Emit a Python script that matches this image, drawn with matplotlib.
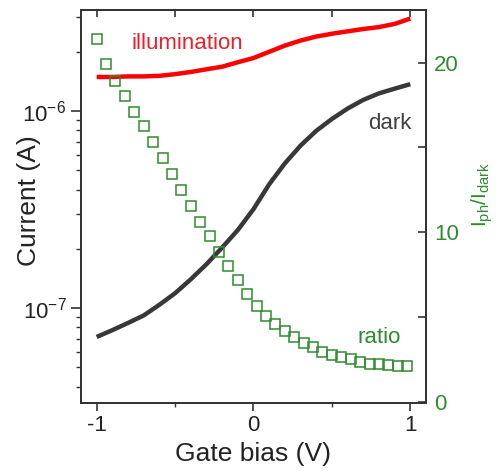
"""Dark / illumination transfer curves with photo-to-dark current ratio."""

import matplotlib
matplotlib.use('Agg')
import matplotlib.pyplot as plt
from matplotlib.ticker import LogLocator, NullFormatter, MultipleLocator

plt.rcParams['font.family'] = ['Liberation Sans', 'DejaVu Sans']
plt.rcParams['mathtext.fontset'] = 'custom'
plt.rcParams['mathtext.rm'] = 'Liberation Sans'
plt.rcParams['mathtext.it'] = 'Liberation Sans:italic'

# Gate bias grid of the two current traces (V)
gate_v = [-1.0, -0.9, -0.8, -0.7, -0.6, -0.5, -0.4, -0.3, -0.2, -0.1, 0.0,
          0.1, 0.2, 0.3, 0.4, 0.5, 0.6, 0.7, 0.8, 0.9, 1.0]

# Dark current (A)
dark_current = [7.14e-8, 7.73e-8, 8.41e-8, 9.18e-8, 1.04e-7, 1.19e-7, 1.40e-7,
                1.67e-7, 2.03e-7, 2.49e-7, 3.18e-7, 4.25e-7, 5.43e-7, 6.68e-7,
                7.94e-7, 9.12e-7, 1.03e-6, 1.14e-6, 1.23e-6, 1.30e-6, 1.37e-6]

# Current under illumination (A)
illum_current = [1.49e-6, 1.49e-6, 1.50e-6, 1.50e-6, 1.51e-6, 1.54e-6, 1.58e-6,
                 1.63e-6, 1.68e-6, 1.77e-6, 1.86e-6, 2.00e-6, 2.15e-6, 2.28e-6,
                 2.39e-6, 2.47e-6, 2.54e-6, 2.61e-6, 2.67e-6, 2.77e-6, 2.95e-6]

# Ratio Iph/Idark, sampled every 0.06 V
ratio_v = [-1.00, -0.94, -0.88, -0.82, -0.76, -0.70, -0.64, -0.58, -0.52, -0.46,
           -0.40, -0.34, -0.28, -0.22, -0.16, -0.10, -0.04, 0.02, 0.08, 0.14,
           0.20, 0.26, 0.32, 0.38, 0.44, 0.50, 0.56, 0.62, 0.68, 0.74,
           0.80, 0.86, 0.92, 0.98]
ratio = [21.37, 19.92, 18.94, 18.02, 17.07, 16.25, 15.31, 14.39, 13.45, 12.52,
         11.58, 10.64, 9.76, 8.83, 7.99, 7.17, 6.38, 5.65, 5.09, 4.62,
         4.20, 3.85, 3.51, 3.22, 2.98, 2.79, 2.65, 2.53, 2.36, 2.26,
         2.22, 2.16, 2.14, 2.10]

green = '#2e8b2e'
spine_color = '#333333'

fig = plt.figure(figsize=(4.99, 4.71), dpi=100)
ax = fig.add_axes([0.1623, 0.1444, 0.6914, 0.8344])

ax.plot(gate_v, illum_current, color='#ff0000', lw=3.2, solid_capstyle='butt')
ax.plot(gate_v, dark_current, color='#383838', lw=3.2, solid_capstyle='butt')

ax.set_yscale('log')
ax.set_ylim(3.3e-8, 3.26e-6)
ax.set_xlim(-1.1, 1.1)
ax.yaxis.set_major_locator(LogLocator(base=10))
ax.yaxis.set_minor_locator(LogLocator(base=10, subs=range(2, 10)))
ax.yaxis.set_minor_formatter(NullFormatter())
ax.set_xticks([-1, 0, 1])
ax.set_xticklabels(['-1', '0', '1'])
ax.xaxis.set_minor_locator(MultipleLocator(0.5))

ax.tick_params(axis='y', which='major', direction='out', length=7, width=1.2,
               labelsize=16, colors=spine_color, labelcolor='#222222')
ax.tick_params(axis='y', which='minor', direction='out', length=3.5, width=1.0,
               colors=spine_color)
ax.tick_params(axis='x', which='major', direction='out', length=6, width=1.2,
               labelsize=16, pad=3, colors=spine_color, labelcolor='#222222')
ax.tick_params(axis='x', which='minor', direction='out', length=3, width=1.0,
               colors=spine_color)

for sp in ax.spines.values():
    sp.set_color(spine_color)
    sp.set_linewidth(1.3)

# top axis: ticks only, pointing inward
top = ax.secondary_xaxis('top')
top.set_xticks([-1, -0.5, 0, 0.5, 1])
top.tick_params(direction='in', length=5, width=1.2, labeltop=False,
                colors=spine_color)
top.spines['top'].set_color(spine_color)
top.spines['top'].set_linewidth(1.3)

ax.set_xlabel('Gate bias (V)', fontsize=19, color='#222222', labelpad=4)
ax.set_ylabel('Current (A)', fontsize=19, color='#222222')
ax.yaxis.set_label_coords(-0.117, 0.514)

# ratio on the right axis
ax2 = ax.twinx()
ax2.plot(ratio_v, ratio, ls='none', marker='s', ms=6.8, mfc='none',
         mec=green, mew=1.1)
ax2.set_ylim(-0.05, 23.1)
ax2.set_yticks([0, 10, 20])
ax2.yaxis.set_minor_locator(MultipleLocator(5))
ax2.tick_params(axis='y', which='both', direction='in', length=6, width=1.2,
                labelsize=16, colors=spine_color, labelcolor=green, pad=6)
for sp in ax2.spines.values():
    sp.set_color(spine_color)
    sp.set_linewidth(1.3)
ax2.set_ylabel(r'$\mathregular{I_{ph}/I_{dark}}$', fontsize=15, color=green)
ax2.yaxis.set_label_coords(1.125, 0.53)

ax.text(-0.42, 2.21e-6, 'illumination', color='#e8212b', fontsize=16,
        ha='center', va='center')
ax.text(0.87, 8.7e-7, 'dark', color='#404040', fontsize=16,
        ha='center', va='center')
ax2.text(0.80, 3.8, 'ratio', color=green, fontsize=16, ha='center', va='center')

fig.savefig('out.png', dpi=100)
plt.close(fig)
